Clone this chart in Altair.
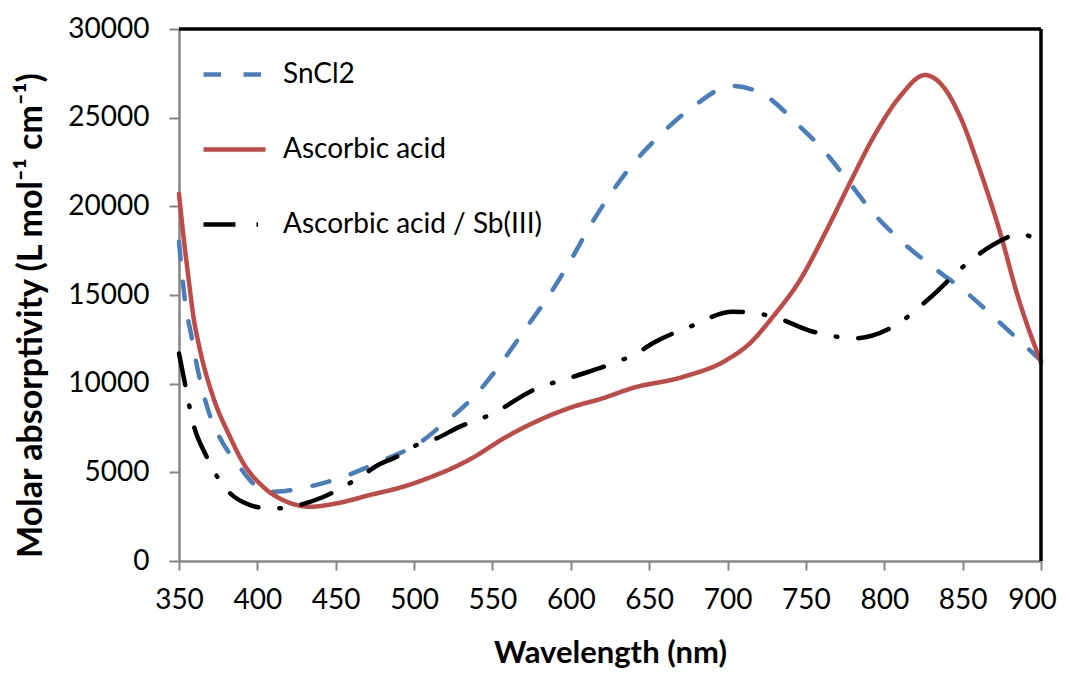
import altair as alt
import pandas as pd

# ---- data ----
series_names = ["SnCl2", "Ascorbic acid", "Ascorbic acid / Sb(III)"]
series_colors = ["#4A7EBB", "#BE4B48", "#000000"]

sncl2_nm = [350, 353.8, 358, 362, 370, 378, 387, 397, 408, 418, 429, 455, 476, 506, 519, 527,
            542, 557, 572, 587, 600, 612, 625, 640, 657, 678, 703, 725, 744, 761, 778, 793,
            810, 831, 853, 874, 900]
sncl2_val = [18000, 14700, 12650, 10770, 8140, 6650, 5520, 4400, 3910, 3950, 4120, 4750, 5520,
             6820, 7760, 8340, 9640, 11340, 13210, 15100, 16970, 18850, 20650, 22430, 24020,
             25620, 26790, 26190, 24680, 23180, 21310, 19620, 18100, 16580, 15100, 13420, 11300]

ascorbic_nm = [350, 353, 356, 359, 363.4, 371.7, 382.5, 391, 403.6, 418.7, 433.6, 450.6, 471.9,
               493, 514, 523, 536, 559, 601.6, 618.7, 639.7, 671.6, 699.5, 714.4, 729, 746.3,
               763.3, 778, 795, 810, 826, 837.6, 848.4, 861, 874, 884.6, 900]
ascorbic_val = [20700, 18200, 16000, 13900, 11900, 9270, 7010, 5520, 4190, 3345, 3060, 3250,
                3720, 4190, 4850, 5180, 5750, 7010, 8700, 9130, 9760, 10380, 11340, 12290,
                13780, 15850, 18670, 21310, 24200, 26190, 27400, 26750, 25060, 22050, 18500,
                15100, 11200]

sb_nm = [350, 355, 358, 367.6, 382.5, 395, 405, 416, 429, 442, 465.5, 477, 489, 503.8, 514.5,
         526.8, 550.6, 576, 601.6, 627, 642, 652.5, 676, 703.5, 729, 754.6, 782, 805.6, 829,
         850.4, 871.8, 886.7, 897, 900]
sb_val = [11700, 9470, 8140, 5880, 3830, 3160, 2990, 2970, 3210, 3610, 4740, 5410, 5880, 6630,
          6920, 7480, 8330, 9640, 10390, 11150, 11710, 12290, 13210, 14060, 13780, 12930, 12560,
          13210, 14830, 16600, 17950, 18440, 18100, 17900]

x_ticks = [350, 400, 450, 500, 550, 600, 650, 700, 750, 800, 850, 900]
y_ticks = [0, 5000, 10000, 15000, 20000, 25000, 30000]

rows = []
for name, xs, ys in [(series_names[0], sncl2_nm, sncl2_val),
                     (series_names[1], ascorbic_nm, ascorbic_val),
                     (series_names[2], sb_nm, sb_val)]:
    for x, y in zip(xs, ys):
        rows.append({"series": name, "nm": x, "val": y})
df = pd.DataFrame(rows)

FONT = "Lato"
AXIS_GRAY = "#868686"

dashes = [[17.5, 22.5], [1, 0], [32, 21, 1.5, 21]]

legend = alt.Legend(
    title=None, orient="none", legendX=22, legendY=12,
    symbolType="stroke", symbolSize=3844, symbolStrokeWidth=4.5,
    labelFontSize=28, labelFont=FONT, labelColor="black", labelOffset=15,
    labelLimit=500, rowPadding=27,
)

x_enc = alt.X("nm:Q", scale=alt.Scale(domain=[350, 900], nice=False, zero=False),
              axis=alt.Axis(values=x_ticks, format="d", title="Wavelength (nm)",
                            titleFontSize=31, titleFont=FONT, titleFontWeight="bold",
                            titleColor="black", titleBaseline="middle", titleY=92,
                            labelFontSize=28, labelFont=FONT, labelColor="black",
                            labelOffset={"condition": {"test": "datum.value == 900", "value": -9},
                                         "value": 0},
                            labelPadding=16, tickSize=9, grid=False, labelFlush=False,
                            domainColor=AXIS_GRAY, domainWidth=2.5,
                            tickColor=AXIS_GRAY, tickWidth=2))
y_enc = alt.Y("val:Q", scale=alt.Scale(domain=[0, 30000], nice=False),
              axis=alt.Axis(values=y_ticks, format="d",
                            title="Molar absorptivity (L mol\u207b\u00b9 cm\u207b\u00b9)",
                            titleFontSize=34, titleFont=FONT, titleFontWeight="bold",
                            titleColor="black", titleAngle=270, titleAlign="center",
                            titleBaseline="middle", titleX=-148, titleY=286,
                            labelFontSize=28, labelFont=FONT, labelColor="black",
                            labelPadding=20, tickSize=10, grid=False, labelFlush=False,
                            domainColor=AXIS_GRAY, domainWidth=2.5,
                            tickColor=AXIS_GRAY, tickWidth=2))

lines = alt.Chart(df).mark_line(strokeWidth=4.5, strokeCap="round", interpolate="monotone").encode(
    x=x_enc,
    y=y_enc,
    color=alt.Color("series:N", scale=alt.Scale(domain=series_names, range=series_colors),
                    legend=legend),
    strokeDash=alt.StrokeDash("series:N", scale=alt.Scale(domain=series_names, range=dashes),
                              legend=legend),
)

top_border = alt.Chart(pd.DataFrame({"y": [30000]})).mark_rule(
    color="black", strokeWidth=3.5).encode(y="y:Q")
right_border = alt.Chart(pd.DataFrame({"x": [900]})).mark_rule(
    color="black", strokeWidth=3.5).encode(x="x:Q")

chart = alt.layer(lines, top_border, right_border).properties(
    width=862, height=532,
    autosize=alt.AutoSizeParams(type="none"),
    padding={"left": 171, "top": 21, "right": 18, "bottom": 108},
).configure_view(stroke=None).configure(background="white")

chart.save("out.html", embed_options={"renderer": "svg", "actions": False})
